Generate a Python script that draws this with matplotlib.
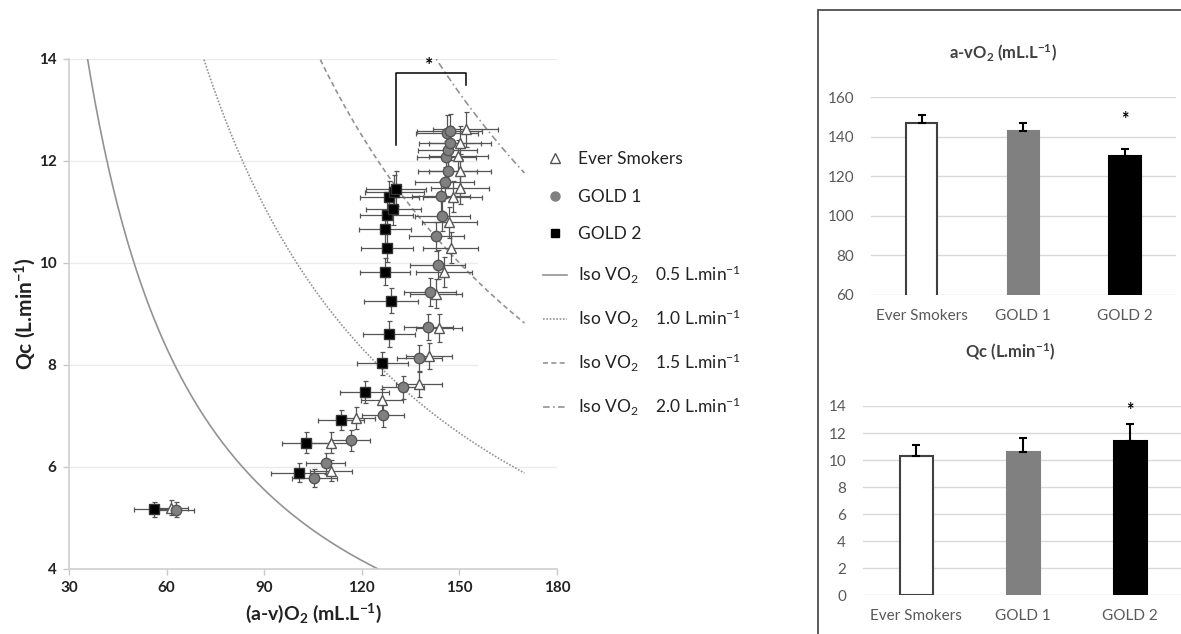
import numpy as np
import matplotlib
matplotlib.use("Agg")
import matplotlib.pyplot as plt
from matplotlib.lines import Line2D
from matplotlib.patches import Rectangle

plt.rcParams['font.family'] = ['Lato', 'DejaVu Sans']
plt.rcParams['mathtext.fontset'] = 'custom'
plt.rcParams['mathtext.rm'] = 'Lato'
plt.rcParams['mathtext.it'] = 'Lato:italic'
plt.rcParams['mathtext.bf'] = 'Lato:bold'

# (a-v)O2 vs Qc during incremental exercise, mean +/- SE per stage
smk_x = [61.5, 110.5, 110.5, 118.1, 126.3, 137.5, 140.7, 143.7, 142.8, 145.3,
         147.3, 146.9, 147.9, 150.2, 150.2, 149.7, 150.3, 152.0]
smk_y = [5.20, 5.93, 6.48, 6.96, 7.31, 7.62, 8.18, 8.73, 9.40, 9.82,
         10.30, 10.80, 11.30, 11.47, 11.81, 12.09, 12.36, 12.62]
smk_xerr = [5, 6.5, 6, 6, 6.5, 7, 7, 7, 8, 8.5, 8.5, 8.5, 9, 9, 9.5, 9, 9.5, 10]
smk_yerr = [0.15, 0.2, 0.2, 0.22, 0.22, 0.25, 0.25, 0.27, 0.28, 0.3,
            0.3, 0.3, 0.3, 0.32, 0.32, 0.33, 0.33, 0.35]

g1_x = [62.8, 105.4, 108.9, 116.6, 126.6, 132.7, 137.7, 140.5, 140.9, 143.3,
        142.9, 144.8, 144.3, 145.5, 146.4, 146.0, 146.4, 147.0, 146.1, 147.1]
g1_y = [5.16, 5.78, 6.07, 6.52, 7.01, 7.56, 8.14, 8.75, 9.43, 9.97,
        10.52, 10.92, 11.31, 11.58, 11.80, 12.07, 12.22, 12.35, 12.55, 12.58]
g1_xerr = [5.5, 7, 6, 6, 6.5, 6.5, 7, 7.5, 8, 8.5,
           8.5, 8.5, 9, 9, 9, 9, 9, 9.5, 9.5, 10]
g1_yerr = [0.15, 0.18, 0.2, 0.2, 0.22, 0.22, 0.25, 0.25, 0.27, 0.28,
           0.28, 0.3, 0.3, 0.3, 0.32, 0.32, 0.33, 0.33, 0.35, 0.35]

g2_x = [56.0, 100.6, 102.7, 113.6, 120.9, 126.3, 128.4, 129.0, 127.2, 127.7,
        127.1, 127.6, 129.7, 128.5, 130.0, 130.5]
g2_y = [5.17, 5.89, 6.48, 6.92, 7.47, 8.03, 8.61, 9.26, 9.83, 10.30,
        10.66, 10.94, 11.05, 11.29, 11.40, 11.46]
g2_xerr = [6, 8.5, 7.3, 7, 7.6, 7.8, 8, 8.3, 7.7, 8, 8, 8, 8.5, 9, 9, 9.3]
g2_yerr = [0.15, 0.18, 0.2, 0.2, 0.22, 0.23, 0.25, 0.25, 0.27, 0.28,
           0.3, 0.3, 0.3, 0.32, 0.33, 0.35]

iso_vo2 = [0.5, 1.0, 1.5, 2.0]
iso_styles = ['-', (0, (1, 1)), (0, (3, 2)), (0, (4, 2, 1, 2))]

# peak values per group
groups = ['Ever Smokers', 'GOLD 1', 'GOLD 2']
avo2_peak = [147.2, 142.8, 130.2]
avo2_se = [3.8, 4.4, 3.6]
qc_peak = [10.3, 10.6, 11.4]
qc_se = [0.8, 1.0, 1.26]

W, H = 1181, 634
fig = plt.figure(figsize=(W / 100, H / 100), dpi=100)

# ---- left panel ----
ax = fig.add_axes([69 / W, 1 - 569 / H, 488 / W, 510 / H])

av = np.linspace(30, 170, 300)
for v, ls in zip(iso_vo2, iso_styles):
    ax.plot(av, v * 1000 / av, color='#939393', lw=1.2, ls=ls, zorder=1)

ebar = dict(fmt='none', ecolor='#555555', elinewidth=0.9, capsize=1.8,
            capthick=0.9, zorder=2)
ax.errorbar(smk_x, smk_y, xerr=smk_xerr, yerr=smk_yerr, **ebar)
ax.errorbar(g1_x, g1_y, xerr=g1_xerr, yerr=g1_yerr, **ebar)
ax.errorbar(g2_x, g2_y, xerr=g2_xerr, yerr=g2_yerr, **ebar)
ax.plot(smk_x, smk_y, ls='none', marker='^', ms=7.5, mfc='white',
        mec='#555555', mew=1, zorder=3)
ax.plot(g1_x, g1_y, ls='none', marker='o', ms=7.5, mfc='#808080',
        mec='#555555', mew=1, zorder=3)
ax.plot(g2_x, g2_y, ls='none', marker='s', ms=7, mfc='black',
        mec='#333333', mew=1, zorder=4)

# significance bracket between GOLD 2 and Ever Smokers peak
bx0, bx1 = g2_x[-1], smk_x[-1]
ax.plot([bx0, bx0, bx1, bx1], [12.31, 13.72, 13.72, 13.49], color='black',
        lw=1.1, clip_on=False, zorder=5)
ax.text((bx0 + bx1) / 2 - 0.7, 13.88, '*', ha='center', va='center',
        fontsize=14, fontweight='bold', clip_on=False)

ax.set_xlim(30, 180)
ax.set_ylim(4, 14)
ax.set_xticks(range(30, 181, 30))
ax.set_yticks(range(4, 15, 2))
# horizontal gridlines; the middle ones stop short behind the legend
for gy in range(6, 15, 2):
    ax.axhline(gy, xmax=1.0 if gy in (6, 14) else 0.836, color='#ebebeb',
               lw=1, zorder=0)
for s in ['top', 'right']:
    ax.spines[s].set_visible(False)
for s in ['left', 'bottom']:
    ax.spines[s].set_color('#d0d0d0')
    ax.spines[s].set_linewidth(1.2)
ax.tick_params(length=4, width=1, color='#c8c8c8', labelsize=11, pad=5,
               labelcolor='#222222')
for lab in ax.get_xticklabels() + ax.get_yticklabels():
    lab.set_fontweight('bold')
ax.set_xlabel(r'(a-v)O$_\mathbf{2}$ (mL.L$^\mathbf{-1}$)', fontsize=14,
              fontweight='bold', color='#222222')
ax.set_ylabel(r'Qc (L.min$^\mathbf{-1}$)', fontsize=15, fontweight='bold',
              color='#222222')
ax.xaxis.set_label_coords(0.5, -0.065)
ax.yaxis.set_label_coords(-0.064, 0.5)

handles = [
    Line2D([], [], ls='none', marker='^', ms=6.5, mfc='white', mec='#555555'),
    Line2D([], [], ls='none', marker='o', ms=6.5, mfc='#808080', mec='#808080'),
    Line2D([], [], ls='none', marker='s', ms=6, mfc='black', mec='black'),
]
labels = ['Ever Smokers', 'GOLD 1', 'GOLD 2']
for v, ls in zip(iso_vo2, iso_styles):
    handles.append(Line2D([], [], color='#939393', lw=1.2, ls=ls))
    labels.append('Iso VO$_2$    %.1f L.min$^{-1}$' % v)
fig.legend(handles, labels, loc='upper left',
           bbox_to_anchor=(543 / W, 1 - 151 / H), frameon=False,
           fontsize=12.5, labelspacing=1.25, handlelength=1.4,
           handletextpad=0.6, borderaxespad=0, borderpad=0,
           labelcolor='#222222')

# ---- right panels ----
fig.add_artist(Rectangle((818 / W, -0.05), 0.5, 1.05 - 10 / H,
                         transform=fig.transFigure, fill=False,
                         edgecolor='#404040', lw=1.2))

bar_face = ['white', '#808080', 'black']
bar_edge = ['#404040', '#808080', 'black']


def bar_panel(rect, vals, errs, ylim, step, title, title_xy, star_y):
    a = fig.add_axes(rect)
    pos = np.arange(len(groups))
    a.bar(pos, vals, width=0.31, color=bar_face, edgecolor=bar_edge,
          lw=1.5, zorder=2)
    a.errorbar(pos, vals, yerr=[np.zeros(len(errs)), errs], fmt='none',
               ecolor='black', elinewidth=1.5, capsize=3, capthick=1.5,
               zorder=3)
    a.text(pos[-1], star_y, '*', ha='center', va='center', fontsize=13,
           fontweight='bold')
    a.set_xlim(-0.5, 2.5)
    a.set_ylim(*ylim)
    a.set_yticks(np.arange(ylim[0], ylim[1] + 1, step))
    a.set_xticks(pos)
    a.set_xticklabels(groups)
    a.yaxis.grid(True, color='#d9d9d9', lw=1)
    a.set_axisbelow(True)
    for s in a.spines.values():
        s.set_visible(False)
    a.tick_params(length=0, labelsize=11, labelcolor='#595959')
    a.tick_params(axis='y', pad=12)
    a.tick_params(axis='x', pad=10)
    fig.text(title_xy[0] / W, 1 - title_xy[1] / H, title, ha='center',
             va='center', fontsize=12, fontweight='bold', color='#404040')
    return a


bar_panel([870.7 / W, 1 - 295 / H, 305.3 / W, 197.7 / H], avo2_peak, avo2_se,
          (60, 160), 20, r'a-vO$_\mathbf{2}$ (mL.L$^\mathbf{-1}$)', (1003, 53),
          149)
bar_panel([862.7 / W, 1 - 595.3 / H, 321 / W, 189.3 / H], qc_peak, qc_se,
          (0, 14), 2, r'Qc (L.min$^\mathbf{-1}$)', (1010, 352), 13.7)

fig.savefig('out.png', dpi=100, facecolor='white')
